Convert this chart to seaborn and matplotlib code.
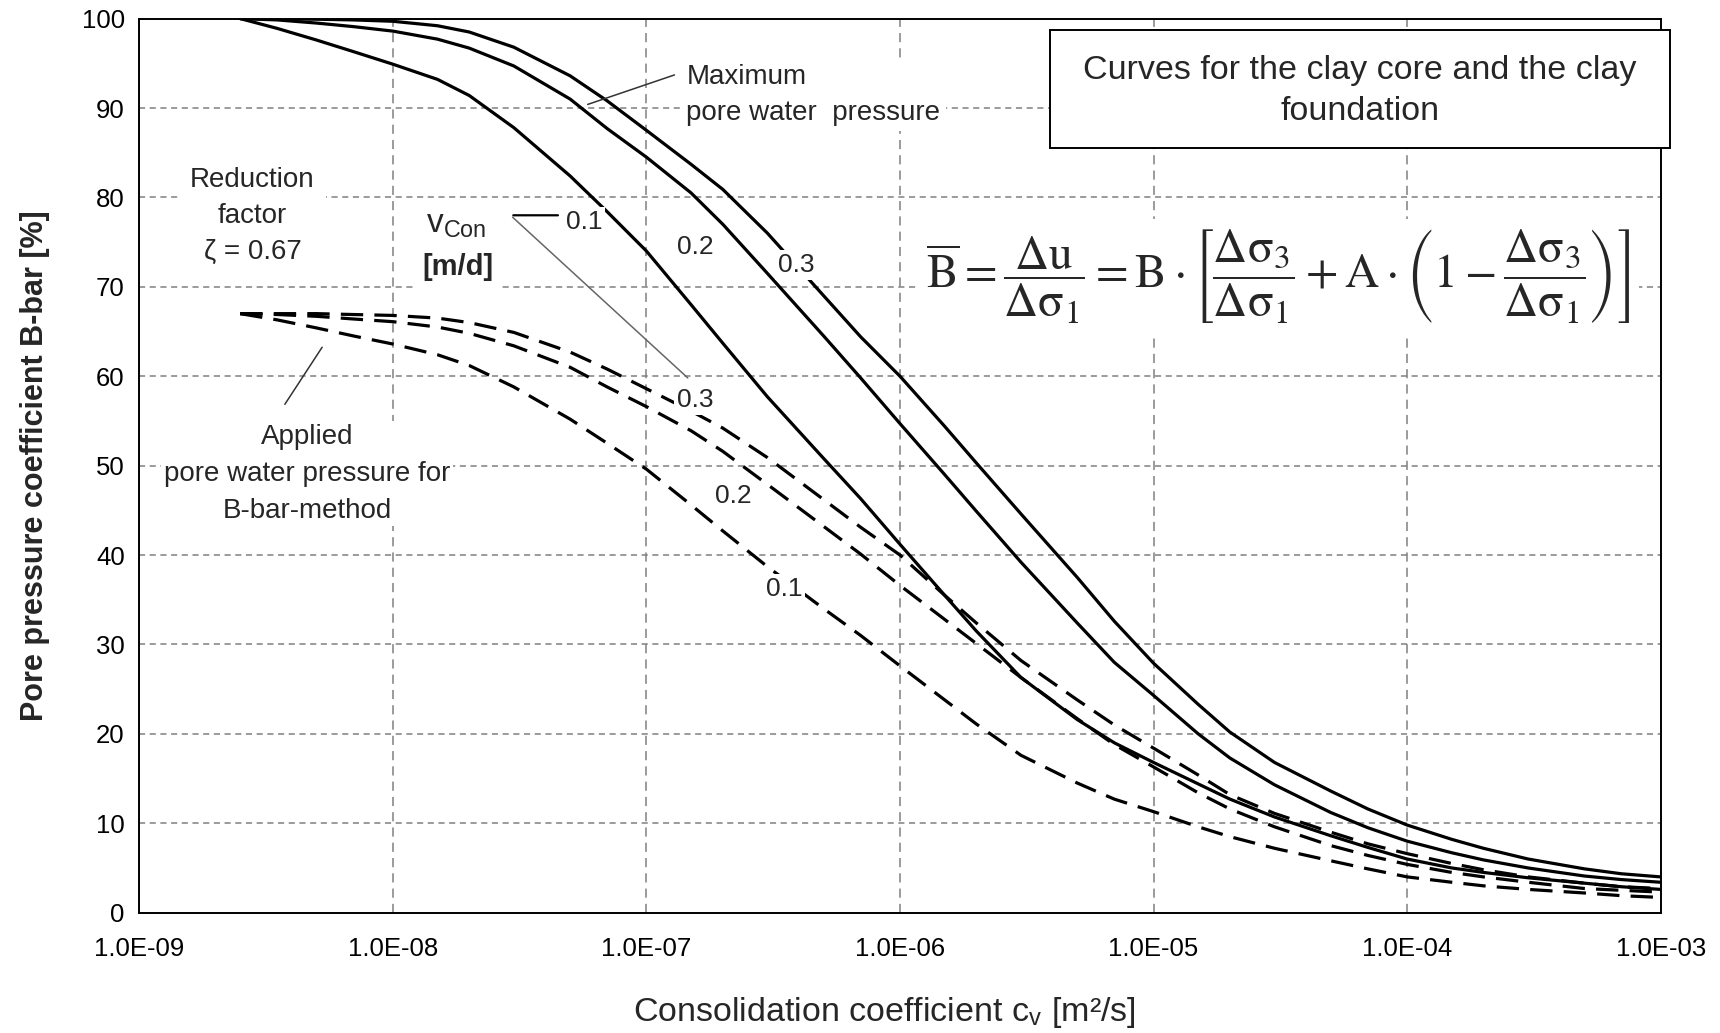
import numpy as np
import pandas as pd
import seaborn as sns
import matplotlib.pyplot as plt
import matplotlib.ticker as mticker
from matplotlib.patches import Rectangle

# consolidation coefficient c_v [m2/s]
cv = [2.5e-9, 3.5e-9, 5e-9, 7e-9,
      1e-8, 1.5e-8, 2e-8, 3e-8, 5e-8, 7e-8,
      1e-7, 1.5e-7, 2e-7, 3e-7, 5e-7, 7e-7,
      1e-6, 1.5e-6, 2e-6, 3e-6, 5e-6, 7e-6,
      1e-5, 1.5e-5, 2e-5, 3e-5, 5e-5, 7e-5,
      1e-4, 1.5e-4, 2e-4, 3e-4, 5e-4, 7e-4, 1e-3]
x_ticks = [1e-9, 1e-8, 1e-7, 1e-6, 1e-5, 1e-4, 1e-3]

# maximum pore water pressure (solid), v_Con = 0.1 / 0.2 / 0.3 m/d
max_01 = [100, 98.9, 97.6, 96.3, 94.9, 93.2, 91.4, 87.8, 82.4, 78.4,
          74.0, 68.0, 63.7, 57.7, 50.8, 46.3, 41.2, 35.5, 31.5, 26.3,
          21.6, 19.0, 16.8, 14.4, 12.7, 10.7, 8.6, 7.3, 6.0, 5.0,
          4.5, 3.9, 3.3, 2.9, 2.6]
max_02 = [100, 99.85, 99.5, 99.1, 98.6, 97.7, 96.7, 94.7, 91.0, 87.7,
          84.5, 80.5, 77.0, 71.5, 64.5, 59.8, 54.7, 49.0, 44.9, 39.2,
          32.4, 28.0, 24.3, 20.0, 17.3, 14.3, 11.2, 9.5, 8.0, 6.7,
          5.9, 5.0, 4.1, 3.7, 3.4]
max_03 = [100, 99.98, 99.93, 99.85, 99.7, 99.2, 98.5, 96.8, 93.6, 90.8,
          87.5, 83.7, 80.9, 76.0, 69.0, 64.4, 60.0, 54.4, 50.3, 44.6,
          37.5, 32.6, 27.9, 23.3, 20.2, 16.8, 13.6, 11.6, 9.8, 8.2,
          7.2, 6.0, 4.9, 4.35, 4.0]

# applied pore water pressure for the B-bar method (dashed)
app_01 = [67.0, 66.3, 65.4, 64.5, 63.6, 62.4, 61.2, 58.8, 55.2, 52.5,
          49.6, 45.6, 42.7, 38.7, 34.0, 31.0, 27.6, 23.8, 21.1, 17.6,
          14.5, 12.7, 11.3, 9.6, 8.5, 7.2, 5.8, 4.9, 4.0, 3.4,
          3.0, 2.6, 2.2, 1.9, 1.7]
app_02 = [67.0, 66.9, 66.7, 66.4, 66.1, 65.5, 64.8, 63.4, 61.0, 58.8,
          56.6, 53.9, 51.6, 47.9, 43.2, 40.1, 36.6, 32.8, 30.1, 26.3,
          21.7, 18.8, 16.3, 13.4, 11.6, 9.6, 7.5, 6.4, 5.4, 4.5,
          4.0, 3.4, 2.7, 2.5, 2.3]
app_03 = [67.0, 67.0, 67.0, 66.9, 66.8, 66.5, 66.0, 64.9, 62.7, 60.8,
          58.6, 56.1, 54.2, 50.9, 46.2, 43.1, 40.0, 35.5, 32.4, 28.2,
          23.8, 21.0, 18.4, 15.4, 13.2, 11.1, 9.0, 7.7, 6.6, 5.5,
          4.8, 4.0, 3.3, 2.9, 2.7]

sns.set_style("white")
plt.rcParams["font.family"] = ["Liberation Sans", "DejaVu Sans"]
plt.rcParams["mathtext.fontset"] = "stix"

fig = plt.figure(figsize=(17.2, 10.33), dpi=100)
ax = fig.add_axes([0.0810, 0.1165, 0.8845, 0.8655])

for ys in (max_01, max_02, max_03):
    sns.lineplot(x=cv, y=ys, ax=ax, color="black", linewidth=2.3, zorder=3)
for ys in (app_01, app_02, app_03):
    sns.lineplot(x=cv, y=ys, ax=ax, color="black", linewidth=2.3,
                 linestyle=(0, (7, 3.5)), zorder=3)

ax.set_xscale("log")
ax.set_xlim(1e-9, 1e-3)
ax.set_ylim(0, 100)
ax.xaxis.set_major_locator(mticker.FixedLocator(x_ticks))
ax.xaxis.set_minor_locator(mticker.LogLocator(base=10, subs=range(2, 10), numticks=100))
ax.xaxis.set_minor_formatter(mticker.NullFormatter())
ax.xaxis.set_major_formatter(mticker.FuncFormatter(lambda v, p: f"{v:.1E}"))
ax.set_yticks(range(0, 101, 10))
ax.yaxis.set_minor_locator(mticker.MultipleLocator(2))

ax.tick_params(axis="both", which="major", direction="inout", length=11, width=1.3,
               labelsize=18.5, colors="black")
ax.tick_params(axis="both", which="minor", direction="in", length=5, width=1.1)
ax.tick_params(axis="x", which="major", pad=12)
ax.tick_params(axis="y", which="major", pad=5)

ax.grid(True, which="major", axis="y", color="#808080", linestyle=(0, (4, 3)), linewidth=1.1)
ax.grid(True, which="major", axis="x", color="#808080", linestyle=(0, (6, 4)), linewidth=1.1)
for s in ax.spines.values():
    s.set_color("black")
    s.set_linewidth(1.4)

ax.set_ylabel("Pore pressure coefficient B-bar [%]", fontsize=22, fontweight="bold")
ax.yaxis.label.set_va("center")
ax.yaxis.set_label_coords(-0.0685, 0.5)
ax.set_xlabel(r"Consolidation coefficient c$_\mathregular{v}$ [m²/s]", fontsize=24.5)
ax.xaxis.label.set_va("center")
ax.xaxis.set_label_coords(0.49, -0.112)

white = dict(facecolor="white", edgecolor="none", pad=2)
fs = 20

# curve labels
for lx, ly, t in [(-7.246, 77.3, "0.1"), (-6.808, 74.5, "0.2"), (-6.409, 72.4, "0.3"),
                  (-6.808, 57.3, "0.3"), (-6.656, 46.6, "0.2"), (-6.457, 36.2, "0.1")]:
    ax.text(10 ** lx, ly, t, fontsize=19, ha="center", va="center", bbox=white, zorder=5)

# annotations
ax.annotate("", xy=(10 ** -7.242, 90.3), xytext=(10 ** -6.879, 93.8),
            arrowprops=dict(arrowstyle="-", color="#333333", lw=1.1), zorder=4)
ax.text(10 ** -6.842, 91.5, "Maximum\npore water  pressure", fontsize=fs, ha="left",
        va="center", linespacing=1.5, bbox=dict(facecolor="white", edgecolor="none", pad=4), zorder=4)

ax.text(10 ** -8.554, 77.9, "Reduction\nfactor\nζ = 0.67", fontsize=fs, ha="center",
        va="center", linespacing=1.5, bbox=dict(facecolor="white", edgecolor="none", pad=8), zorder=4)

ax.annotate("", xy=(10 ** -8.432, 56.6), xytext=(10 ** -8.273, 63.5),
            arrowprops=dict(arrowstyle="-", color="#333333", lw=1.1), zorder=4)
ax.text(10 ** -8.337, 49.1, "Applied\npore water pressure for\nB-bar-method", fontsize=fs,
        ha="center", va="center", linespacing=1.55, bbox=white, zorder=4)

ax.text(10 ** -7.749, 77.0, r"$\mathregular{v_{Con}}$", fontsize=24, ha="center",
        va="center", bbox=dict(facecolor="white", edgecolor="none", pad=6), zorder=4)
ax.text(10 ** -7.745, 72.2, "[m/d]", fontsize=21, fontweight="bold", ha="center",
        va="center", bbox=dict(facecolor="white", edgecolor="none", pad=6), zorder=4)
ax.annotate("", xy=(10 ** -7.338, 78.0), xytext=(10 ** -7.536, 78.0),
            arrowprops=dict(arrowstyle="-", color="black", lw=1.6), zorder=4)
ax.annotate("", xy=(10 ** -6.829, 59.6), xytext=(10 ** -7.536, 78.0),
            arrowprops=dict(arrowstyle="-", color="#666666", lw=1.1), zorder=4)

# title box
fig.patches.append(Rectangle((1049.6 / 1720, 1 - 148 / 1033), (1670 - 1049.6) / 1720,
                             118 / 1033, transform=fig.transFigure, facecolor="white",
                             edgecolor="black", linewidth=1.4, zorder=6))
fig.text(1360 / 1720, 1 - 91 / 1033, "Curves for the clay core and the clay\nfoundation",
         fontsize=24.5, ha="center", va="center", linespacing=1.42, zorder=7)

formula = (r"$\overline{\mathrm{B}}=\dfrac{\Delta\mathrm{u}}{\Delta\mathrm{\sigma}_1}"
           r"=\mathrm{B}\cdot\left[\dfrac{\Delta\mathrm{\sigma}_3}{\Delta\mathrm{\sigma}_1}"
           r"+\mathrm{A}\cdot\left(1-\dfrac{\Delta\mathrm{\sigma}_3}{\Delta\mathrm{\sigma}_1}"
           r"\right)\right]$")
fig.text(1278 / 1720, 1 - 277 / 1033, formula, fontsize=34, ha="center", va="center",
         bbox=dict(facecolor="white", edgecolor="none", pad=6), zorder=6)

fig.savefig("out.png", dpi=100)
